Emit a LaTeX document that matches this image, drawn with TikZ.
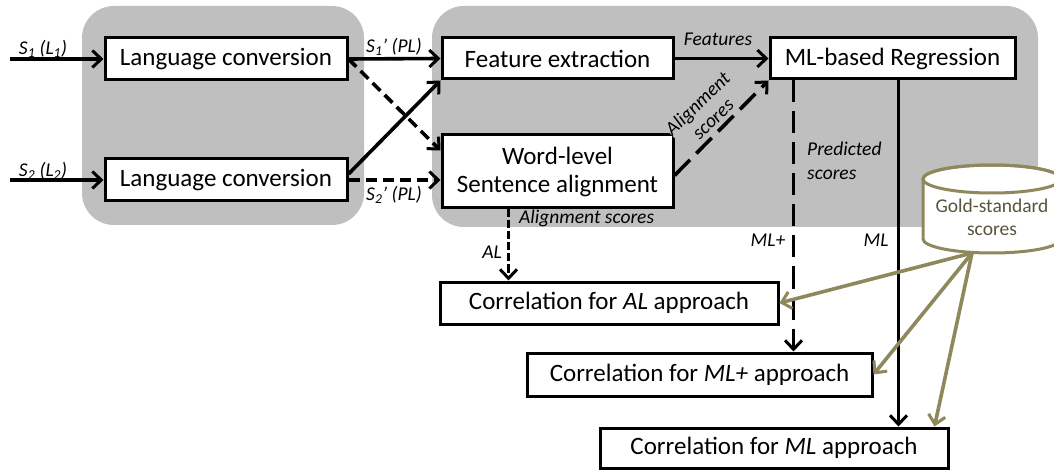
\documentclass[tikz,border=0pt]{standalone}
\usepackage{fontspec}
\setmainfont{Carlito}
\usetikzlibrary{arrows.meta,calc}
\definecolor{bggray}{RGB}{191,191,191}
\definecolor{olivec}{RGB}{143,136,92}
\definecolor{goldtext}{RGB}{89,84,60}
\begin{document}
\begin{tikzpicture}[x=1pt,y=-1pt,
  box/.style={draw=black, line width=3pt, fill=white, inner sep=0pt, align=center,
    font=\fontsize{25}{28}\selectfont},
  lab/.style={font=\fontsize{19.5}{23}\selectfont\itshape, inner sep=1pt},
  arr/.style={line width=3.6pt, -{Straight Barb[length=9pt,width=17pt,line width=3pt]}},
  oarr/.style={line width=3.6pt, draw=olivec, -{Straight Barb[length=9pt,width=17pt,line width=3pt]}},
  sdash/.style={dash pattern=on 11pt off 6pt},
  ldash/.style={dash pattern=on 22pt off 9pt},
  tdash/.style={dash pattern=on 8pt off 3pt}
]
\useasboundingbox (0,0) rectangle (1054,470);
% background groups
\fill[bggray, rounded corners=32pt] (82,6) rectangle (364,225);
\fill[bggray, rounded corners=32pt] (432,6) rectangle (1038,227);

% boxes
\node[box, minimum width=242pt, minimum height=42pt] (lc1) at (226,59) {Language conversion};
\node[box, minimum width=242pt, minimum height=42pt] (lc2) at (226,180) {Language conversion};
\node[box, minimum width=231pt, minimum height=41pt] (fe) at (557.5,58.5) {Feature extraction};
\node[box, minimum width=231pt, minimum height=73pt] (wl) at (557.5,171.5) {Word-level\\Sentence alignment};
\node[box, minimum width=245pt, minimum height=41pt] (mlr) at (892.5,58.5) {ML-based Regression};
\node[box, minimum width=338pt, minimum height=42pt] (cal) at (609,303) {Correlation for \textit{AL} approach};
\node[box, minimum width=345pt, minimum height=43pt] (cmlp) at (699.5,374.5) {Correlation for \textit{ML+} approach};
\node[box, minimum width=348pt, minimum height=40pt] (cml) at (774,448) {Correlation for \textit{ML} approach};

% cylinder
\draw[olivec, line width=3pt, fill=white] (923,179) -- (923,239)
  arc[start angle=180, end angle=360, x radius=69pt, y radius=14pt] -- (1061,179)
  arc[start angle=0, end angle=180, x radius=69pt, y radius=14pt] -- cycle;
\draw[olivec, line width=3pt] (992,179) ellipse [x radius=69pt, y radius=14pt];
\node[font=\fontsize{19.5}{23}\selectfont, text=goldtext, align=center] (gold) at (992,217) {Gold-standard\\scores};
\coordinate (goldb) at (972,253);

% inputs
\coordinate (in1) at (10,59);
\coordinate (in2) at (10,180);
\draw[arr] (in1) -- (lc1.west);
\draw[arr] (in2) -- (lc2.west);
\node[lab] at (43,49) {S\textsubscript{1} (L\textsubscript{1})};
\node[lab] at (43,171) {S\textsubscript{2} (L\textsubscript{2})};

% conversion to processing
\draw[arr] (lc1.east) -- (fe.west);
\node[lab] at (394,47) {S\textsubscript{1}’ (PL)};
\draw[arr, sdash] (lc1.east) -- ($(wl.north west)+(0,17)$);
\draw[arr] ($(lc2.east)+(0,-6)$) -- (fe.south west);
\draw[arr, sdash] (lc2.east) -- (lc2.east -| wl.west);
\node[lab] at (394,195) {S\textsubscript{2}’ (PL)};

% to regression
\draw[arr] (fe.east) -- (mlr.west);
\node[lab] at (718,39) {Features};
\draw[arr, ldash] ($(wl.east)+(0,4)$) -- (mlr.south west);
\node[lab, align=center, rotate=44, fill=bggray, inner sep=0pt, font=\fontsize{19.5}{22}\selectfont\itshape] at (705,111) {Alignment\\scores};

% to correlations
\coordinate (wlb) at ($(wl.south west)+(68,0)$);
\draw[arr, tdash] (wlb) -- (wlb |- cal.north);
\node[lab, anchor=west] at (518,218) {Alignment scores};
\node[lab] at (492,252) {AL};

\coordinate (mlb1) at ($(mlr.south west)+(25,0)$);
\coordinate (mlb2) at ($(mlr.south west)+(130,0)$);
\draw[arr, ldash] (mlb1) -- (mlb1 |- cmlp.north);
\draw[arr] (mlb2) -- (mlb2 |- cml.north);
\node[lab, anchor=west, align=left, font=\fontsize{19.5}{24}\selectfont\itshape] at (806,161) {Predicted\\scores};
\node[lab] at (768,240) {ML+};
\node[lab] at (876,240) {ML};

% gold standard arrows
\draw[oarr] (goldb) -- (cal.east);
\draw[oarr] (goldb) -- (cmlp.east);
\draw[oarr] (goldb) -- ($(cml.north east)+(-15,0)$);
\end{tikzpicture}
\end{document}
